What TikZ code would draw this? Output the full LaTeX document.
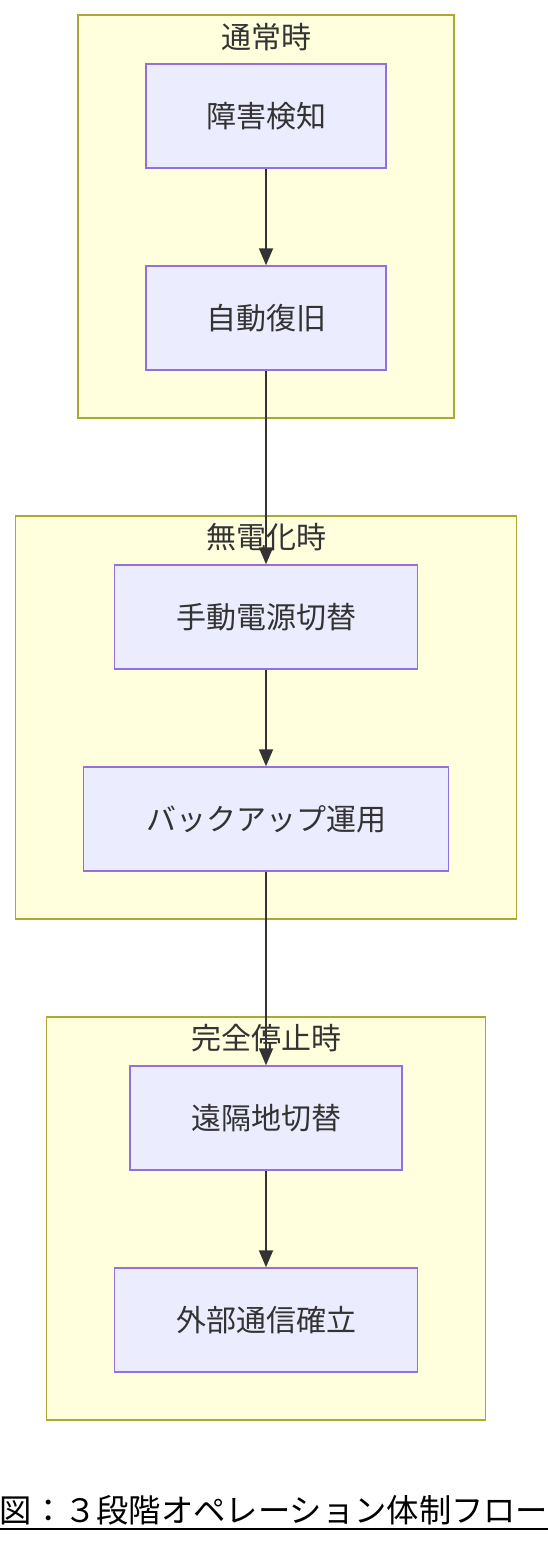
\documentclass[tikz,border=0pt]{standalone}
\usepackage{fontspec}
\newfontfamily\jp{Noto Sans CJK JP}
\usetikzlibrary{arrows.meta}
\definecolor{nodefill}{HTML}{ECECFF}
\definecolor{nodeline}{HTML}{9370DB}
\definecolor{clfill}{HTML}{FFFFDE}
\definecolor{clline}{HTML}{AAAA33}
\definecolor{txt}{HTML}{333333}
\tikzset{
  box/.style={draw=nodeline, fill=nodefill, line width=1.5pt, minimum height=104pt, inner sep=0pt, font=\jp\fontsize{30}{34}\selectfont, text=txt},
  cluster/.style={draw=clline, fill=clfill, line width=1.5pt, inner sep=0pt, minimum height=403pt},
  cltitle/.style={font=\jp\fontsize{30}{34}\selectfont, text=txt, inner sep=0pt},
  flow/.style={draw=txt, line width=1.8pt, -{Triangle[length=17pt,width=14pt]}}
}
\begin{document}
\begin{tikzpicture}[x=1pt,y=-1pt]
\useasboundingbox (0,0) rectangle (548,1544);
\fill[white] (0,0) rectangle (548,1544);
% clusters
\node[cluster, minimum width=376pt] (c1) at (266,216.5) {};
\node[cluster, minimum width=501pt] (c2) at (266,717.5) {};
\node[cluster, minimum width=439pt] (c3) at (266,1218.5) {};
\node[cltitle] (t1) at (266,37) {通常時};
\node[cltitle] (t2) at (266,537) {無電化時};
\node[cltitle] (t3) at (266,1038) {完全停止時};
% nodes
\node[box, minimum width=240pt] (n1) at (266,116) {障害検知};
\node[box, minimum width=240pt] (n2) at (266,318) {自動復旧};
\node[box, minimum width=303pt] (n3) at (266,617) {手動電源切替};
\node[box, minimum width=365pt] (n4) at (266,819) {バックアップ運用};
\node[box, minimum width=272pt] (n5) at (266,1118) {遠隔地切替};
\node[box, minimum width=303pt] (n6) at (266,1320) {外部通信確立};
% edges
\draw[flow] (n1.south) -- (n2.north);
\draw[flow] (n2.south) -- (n3.north);
\draw[flow] (n3.south) -- (n4.north);
\draw[flow] (n4.south) -- (n5.north);
\draw[flow] (n5.south) -- (n6.north);
% caption
\node[font=\jp\fontsize{32.3}{36}\selectfont, inner sep=0pt, anchor=base] (cap) at (274,1522) {図：３段階オペレーション体制フロー};
\coordinate (ul) at (0,1529);
\coordinate (ur) at (548,1529);
\draw[line width=2pt] (ul) -- (ur);
\end{tikzpicture}
\end{document}
